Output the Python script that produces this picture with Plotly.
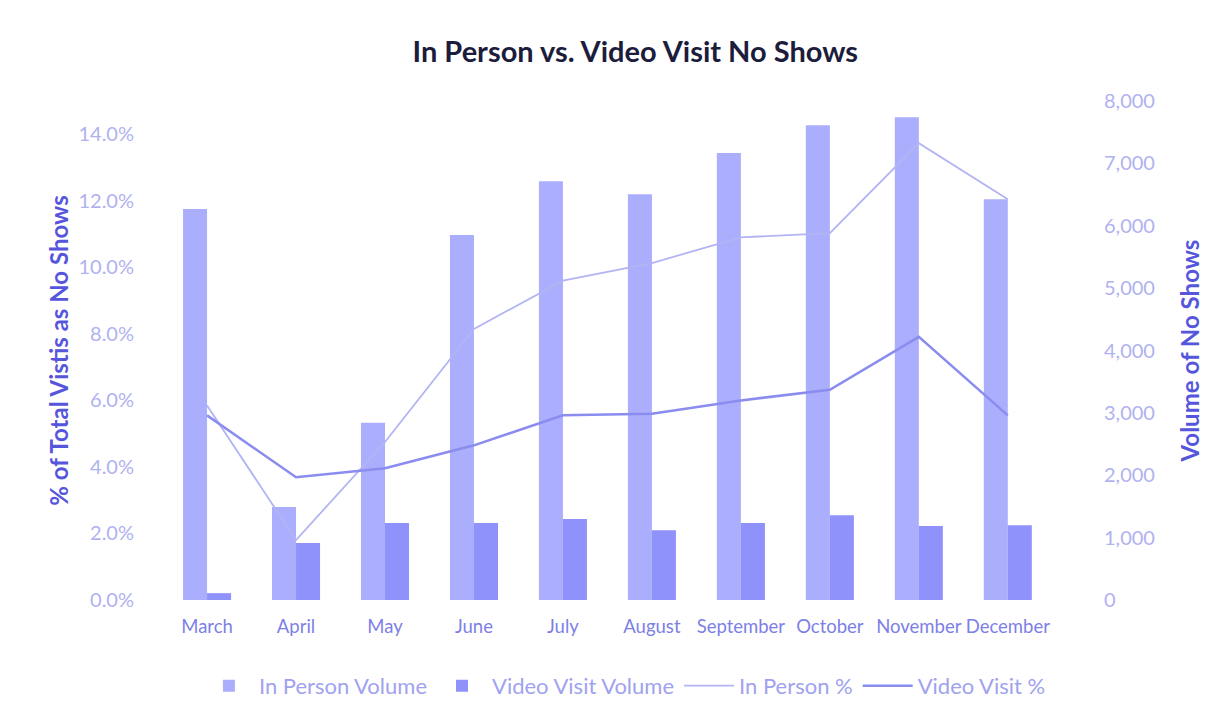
import plotly.graph_objects as go

months = ["March", "April", "May", "June", "July", "August", "September",
          "October", "November", "December"]
in_person_volume = [6270, 1490, 2840, 5850, 6715, 6505, 7165, 7610, 7740, 6425]
video_volume = [110, 915, 1235, 1235, 1300, 1120, 1235, 1360, 1185, 1200]
in_person_pct = [0.0585, 0.018, 0.0475, 0.0815, 0.096, 0.1013, 0.109, 0.1103, 0.1373, 0.1205]
video_pct = [0.0555, 0.0369, 0.0396, 0.0465, 0.0555, 0.056, 0.060, 0.0632, 0.0791, 0.0555]

FONT = "Lato"
c_ip_bar = "#abaefc"
c_vv_bar = "#9092fb"
c_ip_line = "#b2b4f4"
c_vv_line = "#8a8cf0"
tick_col = "#b0b2f0"

fig = go.Figure()
fig.add_trace(go.Bar(x=months, y=in_person_volume, name="In Person Volume",
                     marker=dict(color=c_ip_bar, line=dict(width=0)), yaxis="y"))
fig.add_trace(go.Bar(x=months, y=video_volume, name="Video Visit Volume",
                     marker=dict(color=c_vv_bar, line=dict(width=0)), yaxis="y"))
fig.add_trace(go.Scatter(x=months, y=in_person_pct, name="In Person %", mode="lines",
                         line=dict(color=c_ip_line, width=1.8), yaxis="y2"))
fig.add_trace(go.Scatter(x=months, y=video_pct, name="Video Visit %", mode="lines",
                         line=dict(color=c_vv_line, width=2.5), yaxis="y2"))

fig.update_layout(
    width=1230, height=724,
    margin=dict(l=135, r=135, t=93, b=132),
    paper_bgcolor="white", plot_bgcolor="white",
    font=dict(family=FONT, size=20, color=tick_col),
    title=dict(text="<b>In Person vs. Video Visit No Shows</b>", x=0.51, xanchor="center",
               y=0.939, yanchor="middle",
               font=dict(family=FONT, size=29, color="#1c1c3c")),
    barmode="group", bargap=0.46, bargroupgap=0,
    xaxis=dict(type="category", range=[-0.72, 10.07], showgrid=False, showline=False,
               ticks="outside", ticklen=10, tickcolor="rgba(0,0,0,0)", tickangle=0,
               tickfont=dict(size=18.5, color="#7d7fe6")),
    yaxis=dict(side="right", range=[0, 8000], dtick=1000, tickformat=",d",
               showgrid=False, zeroline=False, showline=False,
               tickfont=dict(size=20, color=tick_col),
               title=dict(text="<b>Volume of No Shows</b>",
                          font=dict(size=24, color="#5656dc"), standoff=28)),
    yaxis2=dict(side="left", overlaying="y", range=[0, 0.15], dtick=0.02, tickformat=".1%",
                showgrid=False, zeroline=False, showline=False,
                ticks="outside", ticklen=4, tickcolor="rgba(0,0,0,0)",
                tickfont=dict(size=20, color=tick_col),
                title=dict(text="<b>% of Total Vistis as No Shows</b>",
                           font=dict(size=24, color="#5656dc"), standoff=3)),
    legend=dict(orientation="h", x=0.502, xanchor="center", y=-0.172, yanchor="middle",
                font=dict(size=22, color="#a0a2ee"), traceorder="normal",
                itemwidth=50),
)

fig.write_html("out.html")
